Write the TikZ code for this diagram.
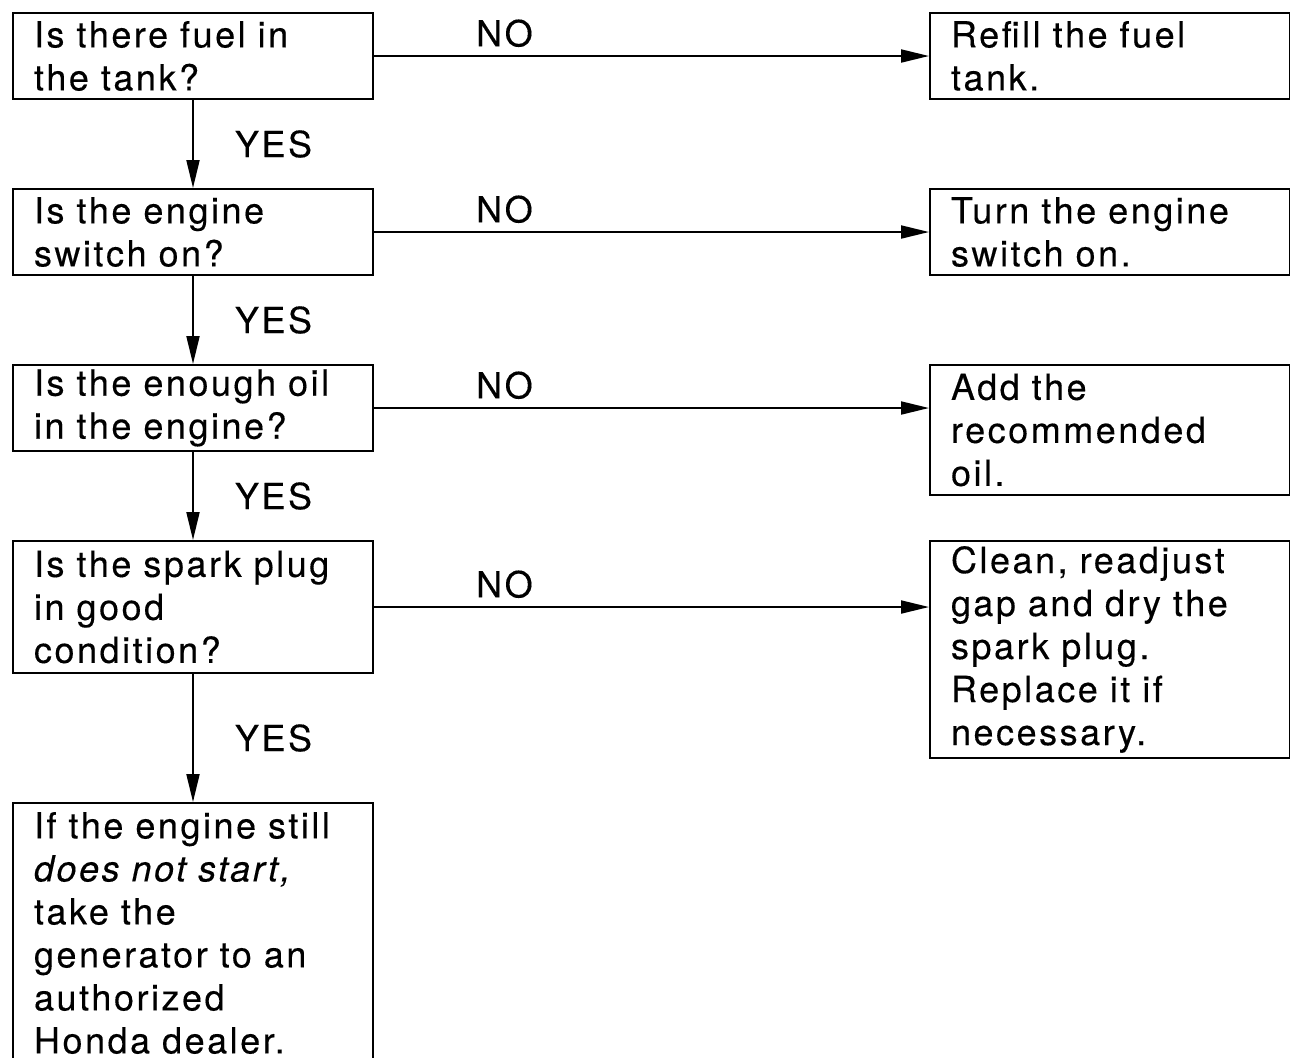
\documentclass[tikz,border=0pt]{standalone}
\usepackage{fontspec}
\setmainfont{TeX Gyre Heros}[LetterSpace=7, FakeBold=0.3]
\usepackage{tikz}
\usetikzlibrary{positioning, arrows.meta, calc}

\begin{document}
\begin{tikzpicture}[
  x=0.5pt, y=-0.5pt,
  box/.style={rectangle, draw, line width=1pt, anchor=north west,
              minimum width=180pt, text width=159pt, inner xsep=10.5pt,
              inner ysep=0pt, align=left,
              font=\fontsize{18}{21.5}\selectfont},
  flow/.style={line width=1pt, -{Triangle[length=14pt, width=6.5pt]}},
  lbl/.style={font=\fontsize{18}{21.5}\selectfont, inner sep=4pt}
]
  \useasboundingbox (0,0) rectangle (1290,1057);

  % questions
  \node[box, minimum height=43pt] (q1) at (12,12)
    {Is there fuel in\\the tank?};
  \node[box, minimum height=43pt] (q2) at (12,188)
    {Is the engine\\switch on?};
  \node[box, minimum height=43pt] (q3) at (12,364)
    {Is the enough oil\\in the engine?};
  \node[box, minimum height=66pt] (q4) at (12,540)
    {Is the spark plug\\in good\\condition?};
  \node[box, minimum height=130pt] (q5) at (12,802)
    {If the engine still\\\textit{does not start,}\\take the\\generator to an\\authorized\\Honda dealer.};

  % remedies
  \node[box, minimum height=43pt] (r1) at (929,12)
    {Refill the fuel\\tank.};
  \node[box, minimum height=43pt] (r2) at (929,188)
    {Turn the engine\\switch on.};
  \node[box, minimum height=65pt] (r3) at (929,364)
    {Add the\\recommended\\oil.};
  \node[box, minimum height=108.5pt] (r4) at (929,540)
    {Clean, readjust\\gap and dry the\\spark plug.\\Replace it if\\necessary.};

  % YES branches
  \foreach \a/\b in {q1/q2, q2/q3, q3/q4, q4/q5}
    \draw[flow] (\a.south) -- (\b.north)
      node[lbl, midway, anchor=west, inner sep=0pt, xshift=20.5pt] {YES};

  % NO branches
  \foreach \a/\b in {q1/r1, q2/r2, q3/r3, q4/r4}
    \draw[flow] (\a.east) -- (\a.east -| \b.west)
      node[lbl, pos=0.235, above] {NO};
\end{tikzpicture}
\end{document}
